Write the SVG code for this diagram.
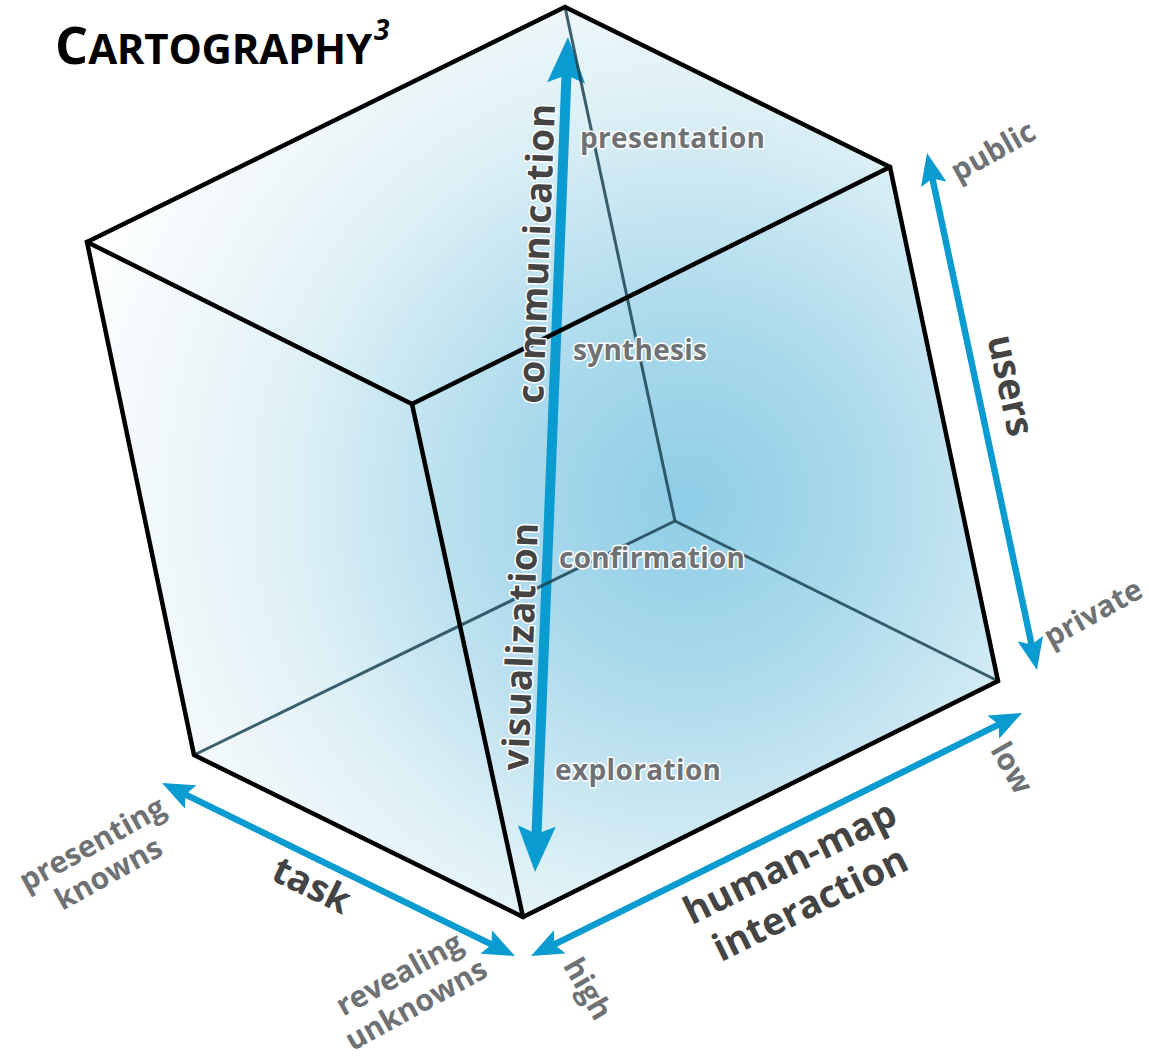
<svg xmlns="http://www.w3.org/2000/svg" width="1149" height="1060" viewBox="0 0 1149 1060">
<defs>
<radialGradient id="glow" gradientUnits="userSpaceOnUse" cx="688" cy="500" r="660">
<stop offset="0" stop-color="#8ecde6"/>
<stop offset="0.26" stop-color="#aad9ec"/>
<stop offset="0.48" stop-color="#cae7f2"/>
<stop offset="0.6" stop-color="#dcf0f6"/>
<stop offset="0.78" stop-color="#eff7fa"/>
<stop offset="1" stop-color="#ffffff"/>
</radialGradient>
<marker id="bigHead" markerUnits="userSpaceOnUse" viewBox="0 0 46 38" markerWidth="46" markerHeight="38" refX="16" refY="19" orient="auto-start-reverse">
<path d="M0,0 L46,19 L0,38 L8,19 z" fill="#0a9bd1"/>
</marker>
<marker id="head" markerUnits="userSpaceOnUse" viewBox="0 0 32 26" markerWidth="32" markerHeight="26" refX="12" refY="13" orient="auto-start-reverse">
<path d="M0,0 L32,13 L0,26 L6,13 z" fill="#0a9bd1"/>
</marker>
</defs>
<style>
.edge{fill:none;stroke:#000;stroke-width:4.5;stroke-linejoin:miter;stroke-linecap:round}
.hidden{fill:none;stroke:#1c4454;stroke-width:3;stroke-opacity:0.85}
.axis{fill:none;stroke:#0a9bd1;stroke-width:6.5}
.axis.big{stroke-width:10}
text{font-family:"Open Sans","Noto Sans","Liberation Sans",sans-serif;font-weight:700}
.lbl{fill:#6f7274;font-size:28px;stroke:#ffffff;stroke-width:3;paint-order:stroke;stroke-linejoin:round}
.out{fill:#6f7274;font-size:30px}
.ttl{fill:#444444;font-size:37px;stroke:#ffffff;stroke-width:3;paint-order:stroke;stroke-linejoin:round}
.ttlo{fill:#444444;font-size:38px}
</style>

<g id="cube">
<polygon points="565,7 890,167 998,681 523,917 194,755 87,242" fill="url(#glow)"/>
</g>

<g id="connectors">
<line class="axis big" x1="536.2" y1="842" x2="566.8" y2="67" marker-start="url(#bigHead)" marker-end="url(#bigHead)"/>
<line class="axis" x1="180" y1="791.8" x2="497" y2="947.2" marker-start="url(#head)" marker-end="url(#head)"/>
<line class="axis" x1="548.9" y1="947.1" x2="1004.1" y2="721.9" marker-start="url(#head)" marker-end="url(#head)"/>
<line class="axis" x1="931.2" y1="172.6" x2="1032.8" y2="650.4" marker-start="url(#head)" marker-end="url(#head)"/>
</g>

<g id="cube-edges">
<line class="hidden" x1="675" y1="521" x2="565" y2="7"/>
<line class="hidden" x1="675" y1="521" x2="998" y2="681"/>
<line class="hidden" x1="675" y1="521" x2="194" y2="755"/>
<polygon class="edge" points="565,7 890,167 998,681 523,917 194,755 87,242"/>
<polyline class="edge" points="87,242 412,404 890,167"/>
<line class="edge" x1="412" y1="404" x2="523" y2="917"/>
</g>

<g id="title">
<text x="55" y="64" fill="#000"><tspan font-size="52">C</tspan><tspan font-size="42" textLength="284">ARTOGRAPHY</tspan><tspan font-size="28" font-style="italic" dx="2" dy="-24">3</tspan></text>
</g>

<g id="stages">
<text class="lbl" x="580" y="148" textLength="185">presentation</text>
<text class="lbl" x="573" y="360" textLength="134">synthesis</text>
<text class="lbl" x="559" y="568" textLength="186">confirmation</text>
<text class="lbl" x="555" y="780" textLength="166">exploration</text>
</g>

<g id="axis-communication">
<text class="ttl" transform="translate(549,254) rotate(-87.7)" text-anchor="middle" textLength="300">communication</text>
</g>
<g id="axis-visualization">
<text class="ttl" transform="translate(533,647) rotate(-87.7)" text-anchor="middle" textLength="248">visualization</text>
</g>

<g id="axis-users">
<text class="ttlo" transform="translate(998,388) rotate(78)" text-anchor="middle">users</text>
<text class="out" transform="translate(998,160) rotate(-29)" text-anchor="middle">public</text>
<text class="out" transform="translate(1098,622) rotate(-29)" text-anchor="middle">private</text>
</g>

<g id="axis-task">
<text class="ttlo" transform="translate(306,897) rotate(26)" text-anchor="middle" font-size="40">task</text>
<g transform="translate(100,858) rotate(-29)">
<text class="out" x="0" y="-6" text-anchor="middle">presenting</text>
<text class="out" x="0" y="28" text-anchor="middle">knowns</text>
</g>
<g transform="translate(408,990) rotate(-29)">
<text class="out" x="0" y="-8" text-anchor="middle">revealing</text>
<text class="out" x="0" y="27" text-anchor="middle">unknowns</text>
</g>
</g>

<g id="axis-interaction">
<g transform="translate(800,883) rotate(-26.3)">
<text class="ttlo" x="0" y="-10" text-anchor="middle">human-map</text>
<text class="ttlo" x="0" y="36" text-anchor="middle">interaction</text>
</g>
<text class="out" transform="translate(579,994) rotate(60)" text-anchor="middle">high</text>
<text class="out" transform="translate(1003,773) rotate(60)" text-anchor="middle">low</text>
</g>
</svg>
